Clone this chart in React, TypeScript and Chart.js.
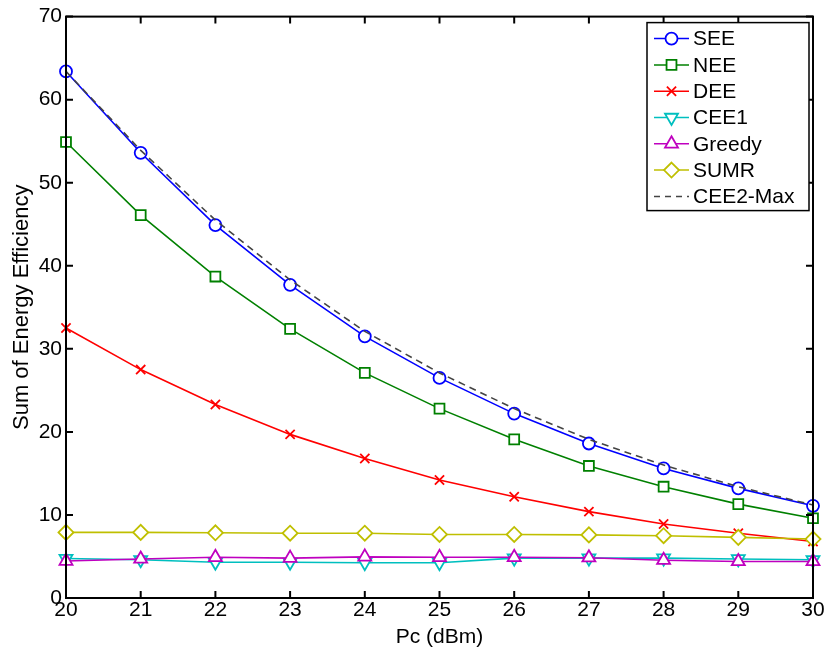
import React, { useEffect, useRef } from 'react';
import { Chart, registerables } from 'chart.js';

Chart.register(...registerables);

// ---------- data ----------
const pcValues = [20, 21, 22, 23, 24, 25, 26, 27, 28, 29, 30];
const seeValues = [63.4, 53.6, 44.9, 37.7, 31.5, 26.5, 22.2, 18.6, 15.6, 13.2, 11.1];
const neeValues = [54.9, 46.1, 38.7, 32.4, 27.1, 22.8, 19.1, 15.9, 13.4, 11.3, 9.6];
const deeValues = [32.5, 27.5, 23.3, 19.7, 16.8, 14.2, 12.2, 10.4, 8.9, 7.8, 6.8];
const cee1Values = [4.75, 4.6, 4.3, 4.3, 4.25, 4.25, 4.8, 4.8, 4.8, 4.7, 4.6];
const greedyValues = [4.45, 4.7, 4.9, 4.8, 4.95, 4.9, 4.9, 4.85, 4.55, 4.4, 4.4];
const sumrValues = [7.9, 7.9, 7.85, 7.8, 7.8, 7.65, 7.65, 7.6, 7.5, 7.3, 7.1];
const cee2MaxValues = [63.4, 53.9, 45.5, 38.3, 32.1, 27.1, 22.8, 19.1, 16.0, 13.4, 11.2];

const seriesLabels = ['SEE', 'NEE', 'DEE', 'CEE1', 'Greedy', 'SUMR', 'CEE2-Max'];
const xTitle = 'Pc (dBm)';
const yTitle = 'Sum of Energy Efficiency';
const xMin = 20;
const xMax = 30;
const yMin = 0;
const yMax = 70;
const yStep = 10;

// ---------- styles ----------
const FONT = "'Liberation Sans', Arial, Helvetica, sans-serif";
const FS = 21;

type Style = {
  color: string;
  marker: string; // circle | rect | crossRot | triangle | triangleDown | rectRot | none
  radius: number;
  dash: number[];
};

const styles: Style[] = [
  { color: '#0000ff', marker: 'circle', radius: 6, dash: [] },
  { color: '#008000', marker: 'rect', radius: 7, dash: [] },
  { color: '#ff0000', marker: 'crossRot', radius: 6.5, dash: [] },
  { color: '#00bfbf', marker: 'triangleDown', radius: 7.5, dash: [] },
  { color: '#bf00bf', marker: 'triangle', radius: 7.5, dash: [] },
  { color: '#bfbf00', marker: 'rectRot', radius: 7.5, dash: [] },
  { color: '#444444', marker: 'none', radius: 0, dash: [7, 5] },
];

const allValues = [seeValues, neeValues, deeValues, cee1Values, greedyValues, sumrValues, cee2MaxValues];

function drawMarker(ctx: CanvasRenderingContext2D, marker: string, x: number, y: number, r: number, color: string) {
  ctx.save();
  ctx.strokeStyle = color;
  ctx.fillStyle = '#ffffff';
  ctx.lineWidth = 1.8;
  ctx.setLineDash([]);
  ctx.beginPath();
  if (marker === 'circle') {
    ctx.arc(x, y, r, 0, Math.PI * 2);
    ctx.fill();
    ctx.stroke();
  } else if (marker === 'rect') {
    const s = Math.SQRT1_2 * r;
    ctx.rect(x - s, y - s, 2 * s, 2 * s);
    ctx.fill();
    ctx.stroke();
  } else if (marker === 'crossRot') {
    const s = Math.SQRT1_2 * r;
    ctx.moveTo(x - s, y - s);
    ctx.lineTo(x + s, y + s);
    ctx.moveTo(x - s, y + s);
    ctx.lineTo(x + s, y - s);
    ctx.stroke();
  } else if (marker === 'triangle' || marker === 'triangleDown') {
    const sgn = marker === 'triangle' ? 1 : -1;
    const c30 = Math.cos(Math.PI / 6) * r;
    ctx.moveTo(x, y - sgn * r);
    ctx.lineTo(x + c30, y + sgn * r / 2);
    ctx.lineTo(x - c30, y + sgn * r / 2);
    ctx.closePath();
    ctx.fill();
    ctx.stroke();
  } else if (marker === 'rectRot') {
    ctx.moveTo(x, y - r);
    ctx.lineTo(x + r, y);
    ctx.lineTo(x, y + r);
    ctx.lineTo(x - r, y);
    ctx.closePath();
    ctx.fill();
    ctx.stroke();
  }
  ctx.restore();
}

const framePlugin = {
  id: 'matlabFrame',
  afterDatasetsDraw(chart: any) {
    const { ctx, chartArea: a, scales } = chart;
    ctx.save();
    // frame
    ctx.strokeStyle = '#000';
    ctx.lineWidth = 2;
    ctx.setLineDash([]);
    ctx.strokeRect(a.left, a.top, a.right - a.left, a.bottom - a.top);
    const tl = 7;
    ctx.beginPath();
    scales.x.ticks.forEach((t: any) => {
      const px = scales.x.getPixelForValue(t.value);
      ctx.moveTo(px, a.bottom);
      ctx.lineTo(px, a.bottom - tl);
      ctx.moveTo(px, a.top);
      ctx.lineTo(px, a.top + tl);
    });
    scales.y.ticks.forEach((t: any) => {
      const py = scales.y.getPixelForValue(t.value);
      ctx.moveTo(a.left, py);
      ctx.lineTo(a.left + tl, py);
      ctx.moveTo(a.right, py);
      ctx.lineTo(a.right - tl, py);
    });
    ctx.stroke();

    // legend box
    const bw = 162;
    const bh = 188;
    const bx = a.right - 4 - bw;
    const by = a.top + 6;
    ctx.fillStyle = '#fff';
    ctx.fillRect(bx, by, bw, bh);
    ctx.lineWidth = 1.5;
    ctx.strokeStyle = '#000';
    ctx.strokeRect(bx, by, bw, bh);
    const step = 26.3;
    ctx.font = `${FS}px ${FONT}`;
    ctx.textBaseline = 'middle';
    ctx.textAlign = 'left';
    seriesLabels.forEach((label, i) => {
      const st = styles[i];
      const cy = by + 16 + i * step;
      const x0 = bx + 7;
      const x1 = bx + 42;
      ctx.save();
      ctx.strokeStyle = st.color;
      ctx.lineWidth = 1.5;
      ctx.setLineDash(st.dash.length ? [6, 5] : []);
      ctx.beginPath();
      ctx.moveTo(x0, cy);
      ctx.lineTo(x1, cy);
      ctx.stroke();
      ctx.restore();
      if (st.marker !== 'none') drawMarker(ctx, st.marker, (x0 + x1) / 2, cy, st.radius, st.color);
      ctx.fillStyle = '#000';
      ctx.fillText(label, bx + 46, cy + 1);
    });
    ctx.restore();
  },
};

export default function App() {
  const canvasRef = useRef<HTMLCanvasElement | null>(null);

  useEffect(() => {
    document.body.style.margin = '0';
    const canvas = canvasRef.current;
    if (!canvas) return;

    const datasets = seriesLabels.map((label, i) => {
      const st = styles[i];
      const pointStyle = st.marker === 'triangleDown' ? 'triangle' : st.marker === 'none' ? 'circle' : st.marker;
      return {
        label,
        data: pcValues.map((x, j) => ({ x, y: allValues[i][j] })),
        borderColor: st.color,
        backgroundColor: '#ffffff',
        borderWidth: 1.6,
        borderDash: st.dash,
        pointStyle,
        pointRotation: st.marker === 'triangleDown' ? 180 : 0,
        pointRadius: st.radius,
        pointBorderWidth: 1.8,
        pointBorderColor: st.color,
        pointBackgroundColor: '#ffffff',
        tension: 0,
        clip: false as any,
        order: seriesLabels.length - i,
      };
    });

    const chart = new Chart(canvas, {
      type: 'line',
      data: { datasets: datasets as any },
      options: {
        responsive: false,
        animation: false,
        devicePixelRatio: 1,
        layout: { padding: { left: 0, top: 15, right: 15, bottom: 0 } },
        plugins: {
          legend: { display: false },
          tooltip: { enabled: false },
        },
        scales: {
          x: {
            type: 'linear',
            min: xMin,
            max: xMax,
            afterFit: (scale: any) => {
              scale.height = 56;
            },
            grid: { display: false, drawTicks: false },
            border: { display: false },
            ticks: {
              stepSize: 1,
              padding: 0,
              color: '#000',
              font: { family: FONT, size: FS },
              maxRotation: 0,
              autoSkip: false,
            },
            title: {
              display: true,
              text: xTitle,
              color: '#000',
              font: { family: FONT, size: FS },
              padding: { top: 0, bottom: 4 },
            },
          },
          y: {
            type: 'linear',
            min: yMin,
            max: yMax,
            afterFit: (scale: any) => {
              scale.width = 66;
            },
            grid: { display: false, drawTicks: false },
            border: { display: false },
            ticks: {
              stepSize: yStep,
              padding: 4,
              color: '#000',
              font: { family: FONT, size: FS },
            },
            title: {
              display: true,
              text: yTitle,
              color: '#000',
              font: { family: FONT, size: 22 },
              padding: { top: 9, bottom: 0 },
            },
          },
        },
      },
      plugins: [framePlugin],
    });

    return () => chart.destroy();
  }, []);

  return (
    <div style={{ width: 828, height: 654, background: '#fff' }}>
      <canvas ref={canvasRef} width={828} height={654} style={{ display: 'block' }} />
    </div>
  );
}
